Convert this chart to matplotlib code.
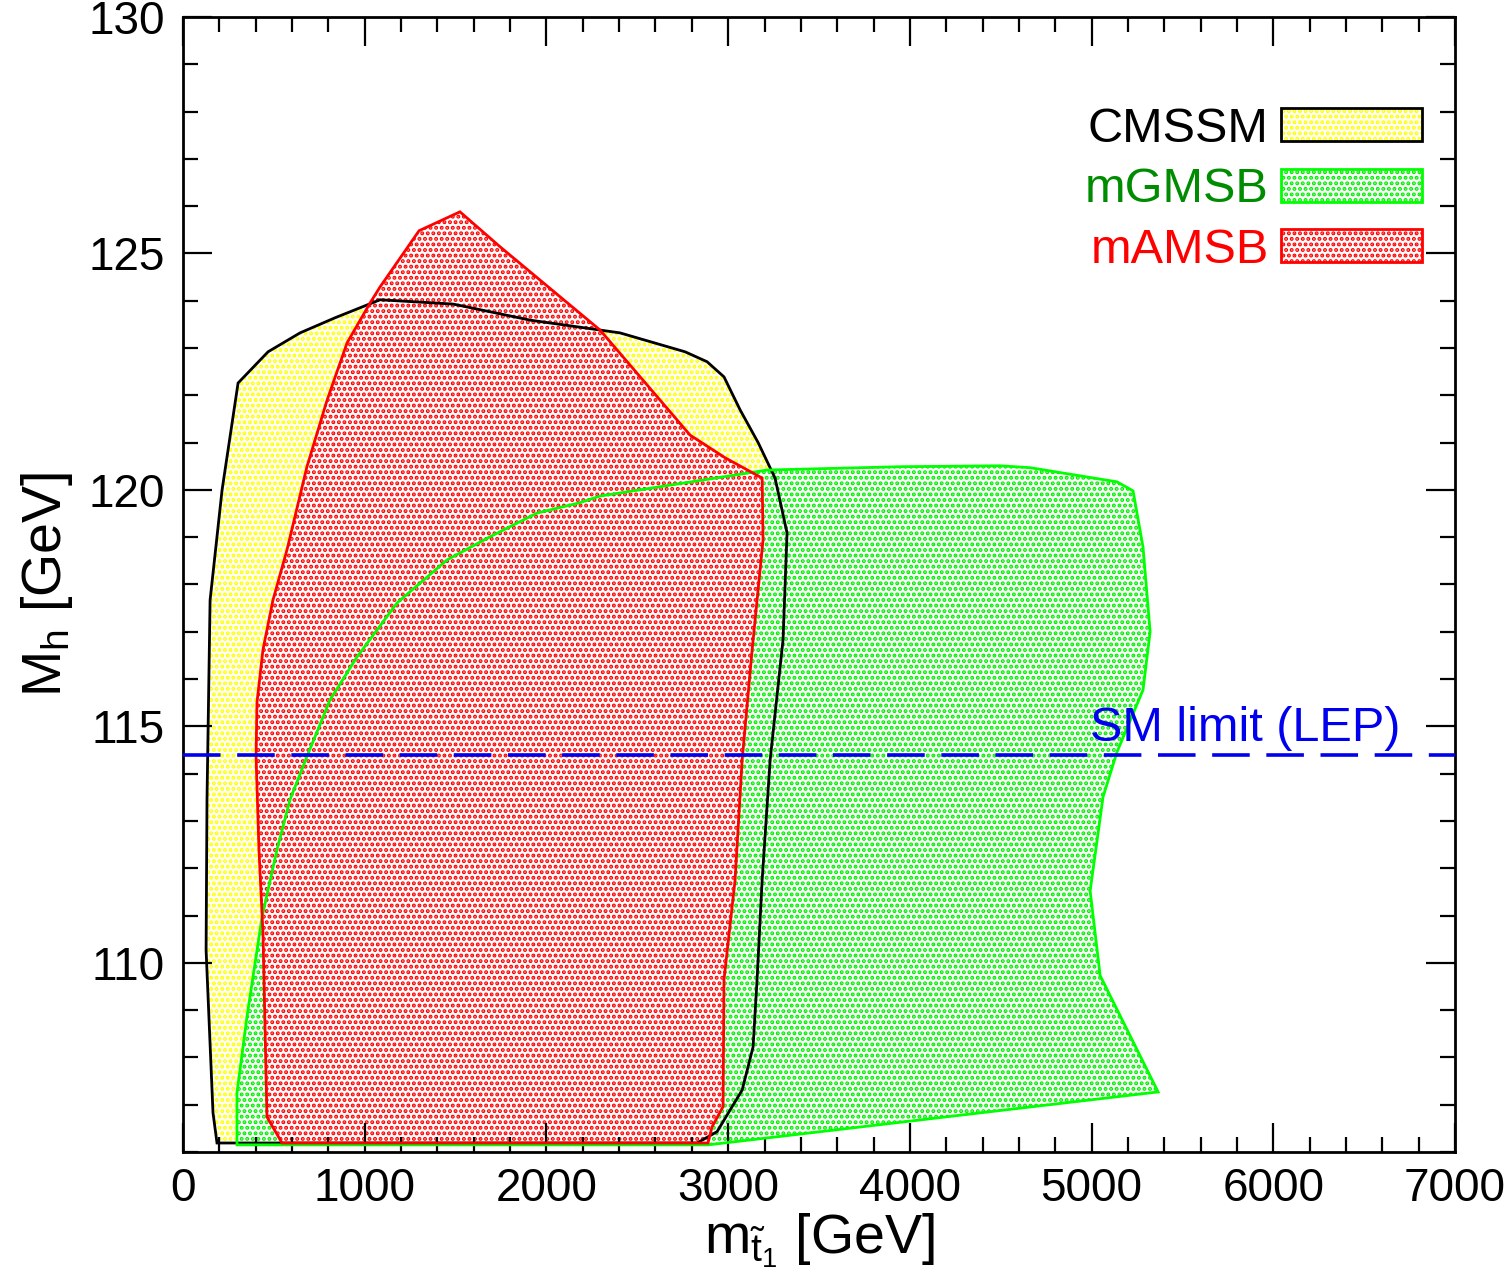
import matplotlib
matplotlib.use('Agg')
import matplotlib.pyplot as plt
from matplotlib.patches import Polygon, Patch
from matplotlib.ticker import MultipleLocator

plt.rcParams['font.family'] = ['Liberation Sans', 'DejaVu Sans']
plt.rcParams['hatch.linewidth'] = 2.0
plt.rcParams['mathtext.fontset'] = 'custom'
plt.rcParams['mathtext.rm'] = 'Liberation Sans'
plt.rcParams['mathtext.it'] = 'Liberation Sans'

# region outlines: (m_stop [GeV], M_h [GeV])
cmssm_x = [187, 165, 127, 132, 149, 215, 303, 468, 644, 837, 1084, 1486, 1910, 2405,
           2763, 2884, 2977, 3066, 3165, 3258, 3324, 3302, 3231, 3187, 3159, 3137,
           3077, 2939, 2829]
cmssm_y = [106.19, 106.83, 110.27, 113.45, 117.67, 120.0, 122.26, 122.92, 123.32,
           123.64, 124.02, 123.93, 123.59, 123.32, 122.92, 122.71, 122.39, 121.69,
           121.0, 120.25, 119.09, 116.83, 114.29, 111.75, 109.64, 108.22, 107.31,
           106.43, 106.19]

gmsb_x = [297, 297, 352, 435, 517, 589, 682, 809, 958, 1178, 1453, 1690, 1948, 2185,
          2295, 3214, 3946, 4496, 4661, 5140, 5228, 5283, 5322, 5283, 5140, 5063,
          4992, 5047, 5366, 2889]
gmsb_y = [106.15, 107.25, 108.86, 110.97, 112.39, 113.45, 114.36, 115.56, 116.47,
          117.61, 118.52, 119.01, 119.51, 119.73, 119.87, 120.42, 120.49, 120.51,
          120.47, 120.17, 119.98, 118.79, 117.0, 115.77, 114.46, 113.51, 111.52,
          109.73, 107.27, 106.15]

amsb_x = [545, 462, 440, 418, 402, 407, 440, 495, 572, 682, 793, 903, 1029, 1084,
          1299, 1524, 1745, 2295, 2790, 2983, 3187, 3192, 3132, 3077, 3038, 2977,
          2972, 2911, 2889]
amsb_y = [106.19, 106.74, 110.63, 112.39, 114.36, 115.50, 116.62, 117.67, 118.73,
          120.49, 121.90, 123.11, 123.95, 124.29, 125.48, 125.88, 125.14, 123.38,
          121.16, 120.68, 120.25, 118.94, 116.62, 114.29, 111.75, 109.64, 106.96,
          106.53, 106.19]

sm_limit = 114.4

names = ['CMSSM', 'mGMSB', 'mAMSB']
fill_colors = ['#ffff00', '#00ee00', '#ff0000']
line_colors = ['black', '#00ff00', '#ff0000']
text_colors = ['black', '#008c00', '#ff0000']

fig = plt.figure(figsize=(15.10, 12.77), dpi=100)
ax = fig.add_axes([0.1212, 0.0979, 0.8424, 0.8888])

# dotted fills stacked, outlines all on top
regions = [(cmssm_x, cmssm_y), (gmsb_x, gmsb_y), (amsb_x, amsb_y)]
for (xs, ys), fc in zip(regions, fill_colors):
    ax.add_patch(Polygon(list(zip(xs, ys)), closed=True, facecolor='white',
                         edgecolor=fc, hatch='...', linewidth=0, zorder=1))
for (xs, ys), lc in zip(regions, line_colors):
    ax.add_patch(Polygon(list(zip(xs, ys)), closed=True, facecolor='none',
                         edgecolor=lc, linewidth=2.0, zorder=3))

ax.axhline(sm_limit, color='#0000ee', linewidth=2.6, dashes=(10.4, 4.6), zorder=4)
ax.text(6700, sm_limit + 0.08, 'SM limit (LEP)', color='#0000ee', fontsize=35,
        ha='right', va='bottom', zorder=5)

handles = []
for fc, lc in zip(fill_colors, line_colors):
    h1 = Patch(facecolor='white', edgecolor=fc, hatch='...', linewidth=0)
    h2 = Patch(facecolor='none', edgecolor=lc, linewidth=2.0)
    handles.append((h1, h2))
leg = ax.legend(handles, names, loc='upper right', bbox_to_anchor=(0.974, 0.921),
                frameon=False, markerfirst=False, fontsize=35, handlelength=2.9,
                handleheight=0.66, handletextpad=0.25, labelspacing=0.32,
                borderpad=0, borderaxespad=0, labelcolor=text_colors)

ax.set_xlim(0, 7000)
ax.set_ylim(106, 130)
ax.xaxis.set_major_locator(MultipleLocator(1000))
ax.xaxis.set_minor_locator(MultipleLocator(200))
ax.yaxis.set_major_locator(MultipleLocator(5))
ax.yaxis.set_minor_locator(MultipleLocator(1))
ax.tick_params(which='both', direction='in', top=True, right=True, width=1.6,
               labelsize=33)
ax.tick_params(which='major', length=21)
ax.tick_params(which='minor', length=11)
ax.tick_params(axis='x', pad=11)
ax.tick_params(axis='y', pad=13)
for s in ax.spines.values():
    s.set_linewidth(2.0)

ax.set_xlabel(r'm$_{\tilde{\mathrm{t}}_1}$ [GeV]', fontsize=40, labelpad=0)
ax.set_ylabel(r'M$_\mathrm{h}$ [GeV]', fontsize=40, labelpad=10)

fig.savefig('out.png', dpi=100)
